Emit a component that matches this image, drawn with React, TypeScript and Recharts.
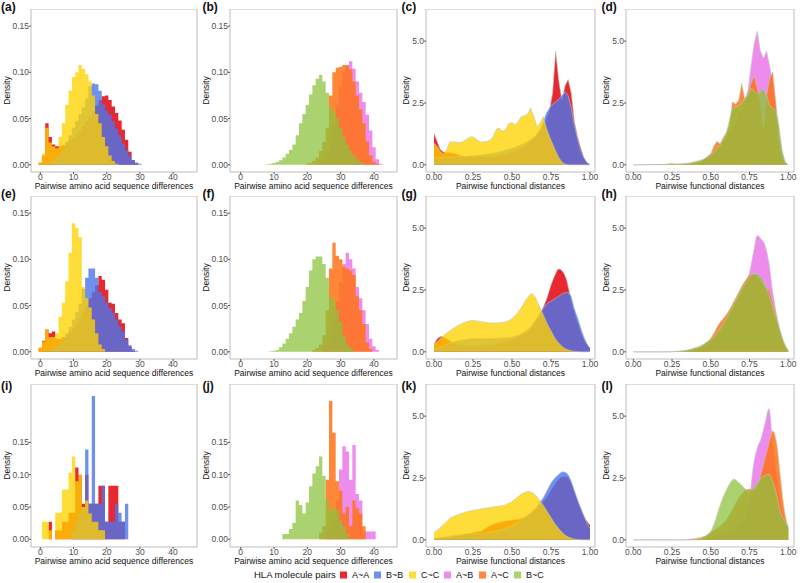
import React from 'react';
import { ComposedChart, Area, XAxis, YAxis, ReferenceArea } from 'recharts';

// ---------------- shared axes / grids ----------------
const HIST_BINS = [-1, 0, 1, 2, 3, 4, 5, 6, 7, 8, 9, 10, 11, 12, 13, 14, 15, 16, 17, 18, 19, 20, 21, 22, 23, 24, 25, 26, 27, 28, 29, 30, 31, 32, 33, 34, 35, 36, 37, 38, 39, 40, 41, 42, 43, 44, 45];
const DENS_X_FINE = [0, 0.02, 0.04, 0.06, 0.08, 0.1, 0.12, 0.14, 0.16, 0.18, 0.2, 0.22, 0.24, 0.26, 0.28, 0.3, 0.32, 0.34, 0.36, 0.38, 0.4, 0.42, 0.44, 0.46, 0.48, 0.5, 0.52, 0.54, 0.56, 0.58, 0.6, 0.62, 0.64, 0.66, 0.68, 0.7, 0.72, 0.74, 0.76, 0.78, 0.8, 0.82, 0.84, 0.86, 0.88, 0.9, 0.92, 0.94, 0.96, 0.98, 1];
const DENS_X = [0, 0.025, 0.05, 0.075, 0.1, 0.125, 0.15, 0.175, 0.2, 0.225, 0.25, 0.275, 0.3, 0.325, 0.35, 0.375, 0.4, 0.425, 0.45, 0.475, 0.5, 0.525, 0.55, 0.575, 0.6, 0.625, 0.65, 0.675, 0.7, 0.725, 0.75, 0.775, 0.8, 0.825, 0.85, 0.875, 0.9, 0.925, 0.95, 0.975, 1];

const HIST_X_TICKS = [0, 10, 20, 30, 40];
const HIST_Y_TICKS = [0, 0.05, 0.1, 0.15];
const DENS_X_TICKS = [0, 0.25, 0.5, 0.75, 1];
const DENS_Y_TICKS = [0, 2.5, 5];

const PAIRS = ['A~A', 'B~B', 'C~C', 'A~B', 'A~C', 'B~C'];
const PANEL_LABELS = ['(a)', '(b)', '(c)', '(d)', '(e)', '(f)', '(g)', '(h)', '(i)', '(j)', '(k)', '(l)'];
const HIST_TITLE = 'Pairwise amino acid sequence differences';
const DENS_TITLE = 'Pairwise functional distances';
const LEGEND_TITLE = 'HLA molecule pairs';

// ---------------- histogram data (bin start + densities) ----------------
const aAA = { from: 0, values: [0.002, 0.01, 0.045, 0.03, 0.022, 0.02, 0.02, 0.021, 0.023, 0.026, 0.029, 0.033, 0.037, 0.042, 0.047, 0.052, 0.058, 0.064, 0.07, 0.074, 0.075, 0.07, 0.063, 0.056, 0.048, 0.038, 0.027, 0.014, 0.005, 0.0015] };
const aBB = { from: 1, values: [0.001, 0.002, 0.003, 0.005, 0.008, 0.012, 0.018, 0.025, 0.032, 0.04, 0.047, 0.055, 0.062, 0.072, 0.085, 0.088, 0.087, 0.08, 0.066, 0.059, 0.054, 0.047, 0.039, 0.032, 0.023, 0.016, 0.01, 0.005, 0.0025, 0.001] };
const aCC = { from: 0, values: [0.003, 0.012, 0.04, 0.024, 0.02, 0.018, 0.03, 0.045, 0.065, 0.08, 0.095, 0.1, 0.108, 0.104, 0.098, 0.09, 0.075, 0.055, 0.045, 0.03, 0.02, 0.01, 0.004, 0.001] };

const bAB = { from: 24, values: [0.003, 0.006, 0.012, 0.025, 0.045, 0.065, 0.085, 0.1, 0.108, 0.112, 0.104, 0.09, 0.078, 0.068, 0.054, 0.037, 0.019, 0.006, 0.001] };
const bAC = { from: 20, values: [0.001, 0.002, 0.004, 0.008, 0.015, 0.025, 0.04, 0.075, 0.1, 0.105, 0.106, 0.108, 0.107, 0.103, 0.09, 0.075, 0.06, 0.045, 0.025, 0.01, 0.003, 0.001] };
const bBC = { from: 8, values: [0.0005, 0.001, 0.002, 0.003, 0.005, 0.008, 0.012, 0.016, 0.022, 0.032, 0.045, 0.055, 0.065, 0.076, 0.086, 0.093, 0.097, 0.09, 0.078, 0.062, 0.058, 0.05, 0.04, 0.03, 0.022, 0.015, 0.01, 0.006, 0.003, 0.001] };

const eAA = { from: 0, values: [0.004, 0.012, 0.024, 0.02, 0.022, 0.014, 0.014, 0.016, 0.018, 0.021, 0.025, 0.03, 0.036, 0.043, 0.05, 0.058, 0.065, 0.072, 0.082, 0.078, 0.067, 0.053, 0.052, 0.042, 0.035, 0.031, 0.015, 0.006, 0.001] };
const eBB = { from: 2, values: [0.001, 0.002, 0.004, 0.006, 0.01, 0.015, 0.02, 0.027, 0.035, 0.043, 0.052, 0.068, 0.08, 0.09, 0.09, 0.08, 0.065, 0.06, 0.053, 0.047, 0.042, 0.035, 0.028, 0.022, 0.013, 0.007, 0.003, 0.001] };
const eCC = { from: 0, values: [0.005, 0.011, 0.024, 0.016, 0.016, 0.02, 0.038, 0.053, 0.076, 0.107, 0.139, 0.134, 0.124, 0.07, 0.058, 0.048, 0.035, 0.02, 0.008, 0.003] };

const fAB = { from: 25, values: [0.004, 0.01, 0.02, 0.035, 0.055, 0.075, 0.095, 0.107, 0.1, 0.09, 0.07, 0.058, 0.045, 0.03, 0.014, 0.006, 0.002] };
const fAC = { from: 22, values: [0.002, 0.004, 0.008, 0.018, 0.045, 0.09, 0.118, 0.104, 0.1, 0.092, 0.09, 0.088, 0.083, 0.06, 0.045, 0.03, 0.01, 0.003] };
const fBC = { from: 9, values: [0.0005, 0.001, 0.002, 0.005, 0.009, 0.014, 0.02, 0.027, 0.035, 0.042, 0.055, 0.07, 0.088, 0.1, 0.103, 0.103, 0.095, 0.08, 0.06, 0.055, 0.045, 0.032, 0.018, 0.008, 0.004, 0.001] };

const iAA = { from: 3, values: [0.027, 0, 0.014, 0.014, 0.027, 0.027, 0.041, 0.041, 0.111, 0.1, 0.055, 0.1, 0.055, 0.055, 0.055, 0.083, 0.083, 0.027, 0.083, 0.083, 0.083, 0.027, 0.027] };
const iBB = { from: 10, values: [0.014, 0.027, 0.04, 0.05, 0.139, 0.055, 0.222, 0.055, 0.055, 0.083, 0.027, 0.027, 0.027, 0.055, 0.041, 0.027, 0.055] };
const iCC = { from: 1, values: [0.027, 0.027, 0.014, 0, 0.041, 0.041, 0.077, 0.077, 0.103, 0.128, 0.09, 0.1, 0.05, 0.06, 0.04, 0.027, 0.027, 0.014, 0.014] };

const jAB = { from: 26, values: [0.01, 0.02, 0.03, 0.06, 0.108, 0.144, 0.136, 0.092, 0.146, 0.07, 0.06, 0.012, 0.012, 0.012, 0.012] };
const jAC = { from: 24, values: [0.01, 0.02, 0.092, 0.214, 0.165, 0.09, 0.075, 0.04, 0.05, 0.02, 0.06, 0.048, 0.04, 0.02] };
const jBC = { from: 13, values: [0.008, 0.008, 0.016, 0.025, 0.06, 0.053, 0.04, 0.057, 0.082, 0.102, 0.113, 0.128, 0.098, 0.06, 0.045, 0.05, 0.045, 0.03, 0.02, 0.008] };

// ---------------- density data ----------------
const cAA = [1.27, 0.95, 0.62, 0.52, 0.5, 0.5, 0.48, 0.45, 0.4, 0.36, 0.34, 0.33, 0.33, 0.33, 0.33, 0.33, 0.33, 0.33, 0.33, 0.34, 0.35, 0.37, 0.39, 0.42, 0.45, 0.5, 0.55, 0.6, 0.67, 0.75, 0.85, 0.95, 1.05, 1.2, 1.4, 1.6, 1.85, 2.2, 2.9, 4.6, 3.4, 2.6, 3.2, 3.45, 2.9, 1.75, 1.15, 0.7, 0.3, 0.08, 0];
const cBB = [0.3, 0.3, 0.3, 0.3, 0.3, 0.3, 0.31, 0.32, 0.33, 0.34, 0.35, 0.36, 0.37, 0.38, 0.39, 0.4, 0.42, 0.44, 0.46, 0.48, 0.5, 0.53, 0.56, 0.6, 0.64, 0.68, 0.72, 0.77, 0.82, 0.88, 0.95, 1.03, 1.12, 1.25, 1.45, 1.75, 2.1, 2.3, 2.45, 2.55, 2.65, 2.8, 2.95, 2.8, 2.3, 1.6, 1.05, 0.6, 0.3, 0.1, 0.02];
const cCC = [0.87, 0.75, 0.55, 0.45, 0.6, 0.92, 0.93, 0.92, 0.9, 0.92, 1.0, 1.08, 1.14, 1.1, 0.98, 0.92, 0.93, 0.95, 1.0, 1.15, 1.45, 1.48, 1.35, 1.45, 1.68, 1.7, 1.62, 1.75, 1.95, 1.98, 2.05, 2.3, 1.95, 1.55, 1.7, 1.95, 1.5, 1.15, 0.85, 0.55, 0.3, 0.1, 0.03, 0, 0, 0, 0, 0, 0, 0, 0];

const dAB = [0, 0, 0.005, 0.005, 0.01, 0.01, 0.01, 0.01, 0.01, 0.01, 0.01, 0.01, 0.02, 0.02, 0.02, 0.03, 0.03, 0.04, 0.05, 0.06, 0.08, 0.1, 0.14, 0.2, 0.27, 0.36, 0.48, 0.6, 0.72, 0.9, 1.05, 1.25, 1.45, 1.7, 2.0, 2.3, 2.6, 3.0, 4.0, 4.9, 5.4, 4.6, 4.3, 4.6, 4.0, 3.3, 2.4, 1.3, 0.5, 0.12, 0];
const dAC = [0, 0, 0, 0, 0.005, 0.005, 0.01, 0.01, 0.01, 0.01, 0.01, 0.01, 0.015, 0.02, 0.02, 0.03, 0.03, 0.04, 0.05, 0.06, 0.08, 0.1, 0.15, 0.25, 0.35, 0.45, 0.75, 0.95, 0.85, 1.1, 1.3, 1.6, 2.55, 2.45, 2.6, 3.3, 2.6, 2.9, 3.3, 3.6, 3.1, 2.6, 1.5, 2.8, 3.5, 3.75, 2.5, 1.0, 0.3, 0.05, 0];
const dBC = [0, 0, 0, 0.005, 0.005, 0.01, 0.01, 0.01, 0.01, 0.015, 0.02, 0.03, 0.05, 0.04, 0.03, 0.03, 0.04, 0.05, 0.07, 0.1, 0.13, 0.17, 0.2, 0.25, 0.32, 0.4, 0.55, 0.7, 0.8, 1.0, 1.25, 1.8, 2.3, 2.35, 2.4, 2.5, 2.7, 2.8, 3.1, 3.0, 2.85, 2.95, 3.1, 2.8, 2.4, 2.3, 2.2, 1.6, 0.6, 0.1, 0];

const gAA = [0.3, 0.55, 0.62, 0.55, 0.45, 0.37, 0.3, 0.27, 0.25, 0.25, 0.25, 0.25, 0.25, 0.27, 0.28, 0.3, 0.32, 0.36, 0.4, 0.45, 0.5, 0.57, 0.65, 0.72, 0.8, 0.95, 1.2, 1.5, 1.8, 2.2, 2.7, 3.1, 3.35, 3.25, 2.9, 2.2, 1.6, 1.1, 0.65, 0.35, 0.15];
const gBB = [0.1, 0.15, 0.2, 0.28, 0.35, 0.4, 0.45, 0.48, 0.5, 0.52, 0.55, 0.55, 0.55, 0.55, 0.55, 0.55, 0.55, 0.56, 0.57, 0.58, 0.6, 0.65, 0.7, 0.8, 0.9, 1.05, 1.3, 1.5, 1.75, 1.95, 2.05, 2.15, 2.25, 2.35, 2.4, 2.3, 1.75, 1.3, 0.8, 0.4, 0.15];
const gCC = [0.3, 0.45, 0.6, 0.72, 0.85, 0.95, 1.05, 1.13, 1.2, 1.25, 1.27, 1.25, 1.22, 1.2, 1.18, 1.17, 1.17, 1.18, 1.2, 1.25, 1.35, 1.5, 1.7, 1.95, 2.2, 2.35, 2.2, 1.85, 1.5, 1.15, 0.85, 0.55, 0.35, 0.2, 0.1, 0.05, 0.02, 0.01, 0, 0, 0];

const hAB = [0, 0, 0, 0, 0, 0, 0, 0, 0, 0.01, 0.01, 0.02, 0.02, 0.03, 0.05, 0.07, 0.1, 0.14, 0.2, 0.27, 0.35, 0.5, 0.7, 0.95, 1.2, 1.5, 1.8, 2.1, 2.4, 2.7, 3.2, 4.0, 4.7, 4.55, 4.3, 3.6, 2.4, 1.5, 0.8, 0.3, 0.05];
const hAC = [0, 0, 0, 0, 0, 0, 0, 0, 0, 0, 0, 0.01, 0.01, 0.02, 0.04, 0.07, 0.12, 0.18, 0.26, 0.38, 0.55, 0.8, 1.1, 1.3, 1.5, 1.75, 2.05, 2.35, 2.65, 2.9, 3.1, 3.15, 3.05, 2.85, 2.6, 2.5, 2.0, 1.4, 0.75, 0.3, 0.05];
const hBC = [0, 0, 0, 0, 0, 0, 0, 0, 0, 0, 0, 0.02, 0.03, 0.05, 0.08, 0.12, 0.17, 0.22, 0.3, 0.4, 0.5, 0.65, 0.85, 1.1, 1.35, 1.65, 1.95, 2.25, 2.55, 2.8, 3.0, 3.15, 3.15, 3.0, 2.75, 2.3, 1.8, 1.3, 0.8, 0.35, 0.05];

const kAA = [0.05, 0.06, 0.08, 0.09, 0.1, 0.12, 0.15, 0.17, 0.2, 0.25, 0.3, 0.33, 0.35, 0.45, 0.55, 0.62, 0.68, 0.72, 0.75, 0.78, 0.8, 0.82, 0.85, 0.9, 1.0, 1.12, 1.25, 1.4, 1.55, 1.75, 2.0, 2.25, 2.45, 2.55, 2.55, 2.35, 1.95, 1.5, 1.1, 0.8, 0.6];
const kBB = [0.05, 0.07, 0.1, 0.12, 0.15, 0.18, 0.2, 0.22, 0.25, 0.25, 0.25, 0.25, 0.25, 0.28, 0.3, 0.32, 0.35, 0.4, 0.45, 0.5, 0.57, 0.65, 0.75, 0.85, 0.98, 1.1, 1.28, 1.5, 1.7, 2.0, 2.3, 2.5, 2.65, 2.75, 2.7, 2.45, 2.0, 1.55, 1.15, 0.75, 0.45];
const kCC = [0.3, 0.42, 0.55, 0.7, 0.85, 0.95, 1.0, 1.06, 1.12, 1.16, 1.2, 1.22, 1.25, 1.28, 1.3, 1.33, 1.35, 1.37, 1.4, 1.47, 1.55, 1.67, 1.8, 1.9, 1.95, 1.92, 1.8, 1.62, 1.4, 1.15, 0.9, 0.65, 0.45, 0.28, 0.15, 0.08, 0.03, 0.01, 0, 0, 0];

const lAB = [0, 0, 0, 0, 0, 0, 0, 0, 0, 0, 0, 0, 0, 0, 0, 0, 0, 0, 0, 0.05, 0.1, 0.15, 0.2, 0.25, 0.3, 0.4, 0.5, 0.6, 0.75, 0.95, 1.6, 3.0, 3.7, 4.1, 4.7, 5.3, 3.9, 2.5, 1.5, 0.8, 0.4];
const lAC = [0, 0, 0, 0, 0, 0, 0, 0, 0, 0, 0, 0, 0, 0, 0.02, 0.03, 0.05, 0.08, 0.12, 0.18, 0.3, 0.4, 0.5, 0.65, 0.8, 1.05, 1.35, 1.65, 1.85, 2.0, 2.05, 2.0, 2.1, 2.7, 3.3, 3.9, 4.4, 3.9, 2.5, 1.2, 0.5];
const lBC = [0, 0, 0, 0, 0, 0, 0, 0, 0, 0, 0, 0, 0, 0, 0, 0, 0.02, 0.05, 0.1, 0.2, 0.35, 0.7, 1.2, 1.65, 2.0, 2.3, 2.45, 2.35, 2.2, 2.05, 1.95, 2.1, 2.3, 2.5, 2.6, 2.65, 2.35, 1.8, 1.1, 0.8, 0.5];

// ---------------- styles ----------------
const FONT = '"Liberation Sans", Arial, Helvetica, sans-serif';
const FILLS = ['#e40a13', '#4a75ec', '#ffd400', '#eb78eb', '#ff7214', '#8dc33d'];
const OPAC = [0.88, 0.8, 0.78, 0.85, 0.85, 0.75];

const COL_BOX = [[31, 197], [230, 397], [426, 595], [626, 794]];
const ROW_BOX = [[9, 172], [196, 359], [384, 547]];
const X_DOM = [[-2.8, 47.2], [-3.21, 46.9], [-0.0513, 1.032], [-0.047, 1.037]];
const HIST_Y_DOM = [[-0.0078, 0.1685], [-0.0078, 0.1685], [-0.012, 0.2405]];
const DENS_Y_DOM = [-0.29, 6.3];
const LABEL_X = [1, 202.5, 401.5, 601.5];
const LABEL_TOP = [1, 188, 379.5];
const RIGHT_PAD = 6;

type Hist = { from: number; values: number[] };
type PanelDef = {
  row: number;
  col: number;
  kind: 'hist' | 'dens';
  pairIdx: number[];
  hist?: Hist[];
  xs?: number[];
  dens?: number[][];
  curve?: 'linear' | 'monotone';
};

const PANELS: PanelDef[] = [
  { row: 0, col: 0, kind: 'hist', pairIdx: [0, 1, 2], hist: [aAA, aBB, aCC] },
  { row: 0, col: 1, kind: 'hist', pairIdx: [3, 4, 5], hist: [bAB, bAC, bBC] },
  { row: 0, col: 2, kind: 'dens', pairIdx: [0, 1, 2], xs: DENS_X_FINE, dens: [cAA, cBB, cCC], curve: 'linear' },
  { row: 0, col: 3, kind: 'dens', pairIdx: [3, 4, 5], xs: DENS_X_FINE, dens: [dAB, dAC, dBC], curve: 'linear' },
  { row: 1, col: 0, kind: 'hist', pairIdx: [0, 1, 2], hist: [eAA, eBB, eCC] },
  { row: 1, col: 1, kind: 'hist', pairIdx: [3, 4, 5], hist: [fAB, fAC, fBC] },
  { row: 1, col: 2, kind: 'dens', pairIdx: [0, 1, 2], xs: DENS_X, dens: [gAA, gBB, gCC], curve: 'monotone' },
  { row: 1, col: 3, kind: 'dens', pairIdx: [3, 4, 5], xs: DENS_X, dens: [hAB, hAC, hBC], curve: 'monotone' },
  { row: 2, col: 0, kind: 'hist', pairIdx: [0, 1, 2], hist: [iAA, iBB, iCC] },
  { row: 2, col: 1, kind: 'hist', pairIdx: [3, 4, 5], hist: [jAB, jAC, jBC] },
  { row: 2, col: 2, kind: 'dens', pairIdx: [0, 1, 2], xs: DENS_X, dens: [kAA, kBB, kCC], curve: 'monotone' },
  { row: 2, col: 3, kind: 'dens', pairIdx: [3, 4, 5], xs: DENS_X, dens: [lAB, lAC, lBC], curve: 'monotone' },
];

function buildRows(p: PanelDef) {
  if (p.kind === 'hist' && p.hist) {
    const hs = p.hist;
    return HIST_BINS.map((b) => {
      const row: Record<string, number> = { x: b };
      hs.forEach((h, i) => {
        const k = b - h.from;
        row['s' + i] = k >= 0 && k < h.values.length ? h.values[k] : 0;
      });
      return row;
    });
  }
  const xs = p.xs || [];
  const ds = p.dens || [];
  return xs.map((x, j) => {
    const row: Record<string, number> = { x };
    ds.forEach((d, i) => {
      row['s' + i] = d[j];
    });
    return row;
  });
}

function Panel({ p, index }: { p: PanelDef; index: number }) {
  const [bx0, bx1] = COL_BOX[p.col];
  const [by0, by1] = ROW_BOX[p.row];
  const isHist = p.kind === 'hist';
  const yw = isHist ? 31 : 26;
  const xh = 20;
  const w = yw + (bx1 - bx0) + RIGHT_PAD;
  const h = by1 - by0 + xh;
  const xd = X_DOM[p.col];
  const yd = isHist ? HIST_Y_DOM[p.row] : DENS_Y_DOM;
  const data = buildRows(p);
  const tickStyle = { fontSize: 8.5, fill: '#4d4d4d', fontFamily: FONT };
  return (
    <>
      <div style={{ position: 'absolute', left: bx0 - yw, top: by0, width: w, height: h }}>
        <ComposedChart width={w} height={h} data={data} margin={{ top: 0, right: RIGHT_PAD, bottom: 0, left: 0 }}>
          <XAxis
            type="number"
            dataKey="x"
            domain={xd}
            allowDataOverflow
            ticks={isHist ? HIST_X_TICKS : DENS_X_TICKS}
            interval={0}
            tickFormatter={(v: number) => (isHist ? String(v) : v.toFixed(2))}
            tickSize={2}
            tickMargin={0}
            axisLine={false}
            tickLine={{ stroke: '#555' }}
            tick={tickStyle}
            height={xh}
            label={{
              value: isHist ? HIST_TITLE : DENS_TITLE,
              position: 'insideBottom',
              offset: 3.5,
              style: { fontSize: 8.5, fill: '#111', fontFamily: FONT },
            }}
          />
          <YAxis
            type="number"
            domain={yd}
            allowDataOverflow
            ticks={isHist ? HIST_Y_TICKS : DENS_Y_TICKS}
            interval={0}
            tickFormatter={(v: number) => (isHist ? v.toFixed(2) : v.toFixed(1))}
            tickSize={2}
            tickMargin={0}
            axisLine={false}
            tickLine={{ stroke: '#555' }}
            tick={tickStyle}
            width={yw}
            label={{
              value: 'Density',
              angle: -90,
              position: 'insideLeft',
              offset: isHist ? 7 : 6,
              style: { textAnchor: 'middle', fontSize: 8.5, fill: '#111', fontFamily: FONT },
            }}
          />
          {p.pairIdx.map((pi, i) => (
            <Area
              key={PAIRS[pi]}
              name={PAIRS[pi]}
              dataKey={'s' + i}
              type={isHist ? 'step' : p.curve}
              baseValue={0}
              fill={FILLS[pi]}
              fillOpacity={OPAC[pi]}
              stroke={isHist ? 'none' : '#c4c4c4'}
              strokeWidth={isHist ? 0 : 0.6}
              dot={false}
              activeDot={false}
              isAnimationActive={false}
            />
          ))}
          <ReferenceArea
            x1={xd[0]}
            x2={xd[1]}
            y1={yd[0]}
            y2={yd[1]}
            fill="none"
            stroke="#bdbdbd"
            strokeWidth={1}
            ifOverflow="visible"
          />
        </ComposedChart>
      </div>
      <div
        style={{
          position: 'absolute',
          left: LABEL_X[p.col],
          top: LABEL_TOP[p.row],
          fontSize: 12,
          lineHeight: '12px',
          fontWeight: 'bold',
          fontFamily: FONT,
          color: '#111',
          whiteSpace: 'nowrap',
        }}
      >
        {PANEL_LABELS[index]}
      </div>
    </>
  );
}

const LEGEND_KEY_X = [340, 374, 409, 444, 479, 514];

function Legend() {
  return (
    <svg width={800} height={21} style={{ position: 'absolute', left: 0, top: 562 }}>
      <text x={254} y={16.4} fontSize={9.5} fontFamily={FONT} fill="#111">
        {LEGEND_TITLE}
      </text>
      {PAIRS.map((name, i) => (
        <g key={name}>
          <rect x={LEGEND_KEY_X[i]} y={9.5} width={7} height={7} fill={FILLS[i]} fillOpacity={OPAC[i]} />
          <text x={LEGEND_KEY_X[i] + 12} y={16.3} fontSize={9} fontFamily={FONT} fill="#111">
            {name}
          </text>
        </g>
      ))}
    </svg>
  );
}

export default function App() {
  return (
    <div
      style={{
        position: 'absolute',
        left: 0,
        top: 0,
        width: 800,
        height: 583,
        background: '#fff',
        fontFamily: FONT,
        overflow: 'hidden',
      }}
    >
      {PANELS.map((p, i) => (
        <Panel key={i} p={p} index={i} />
      ))}
      <Legend />
    </div>
  );
}
